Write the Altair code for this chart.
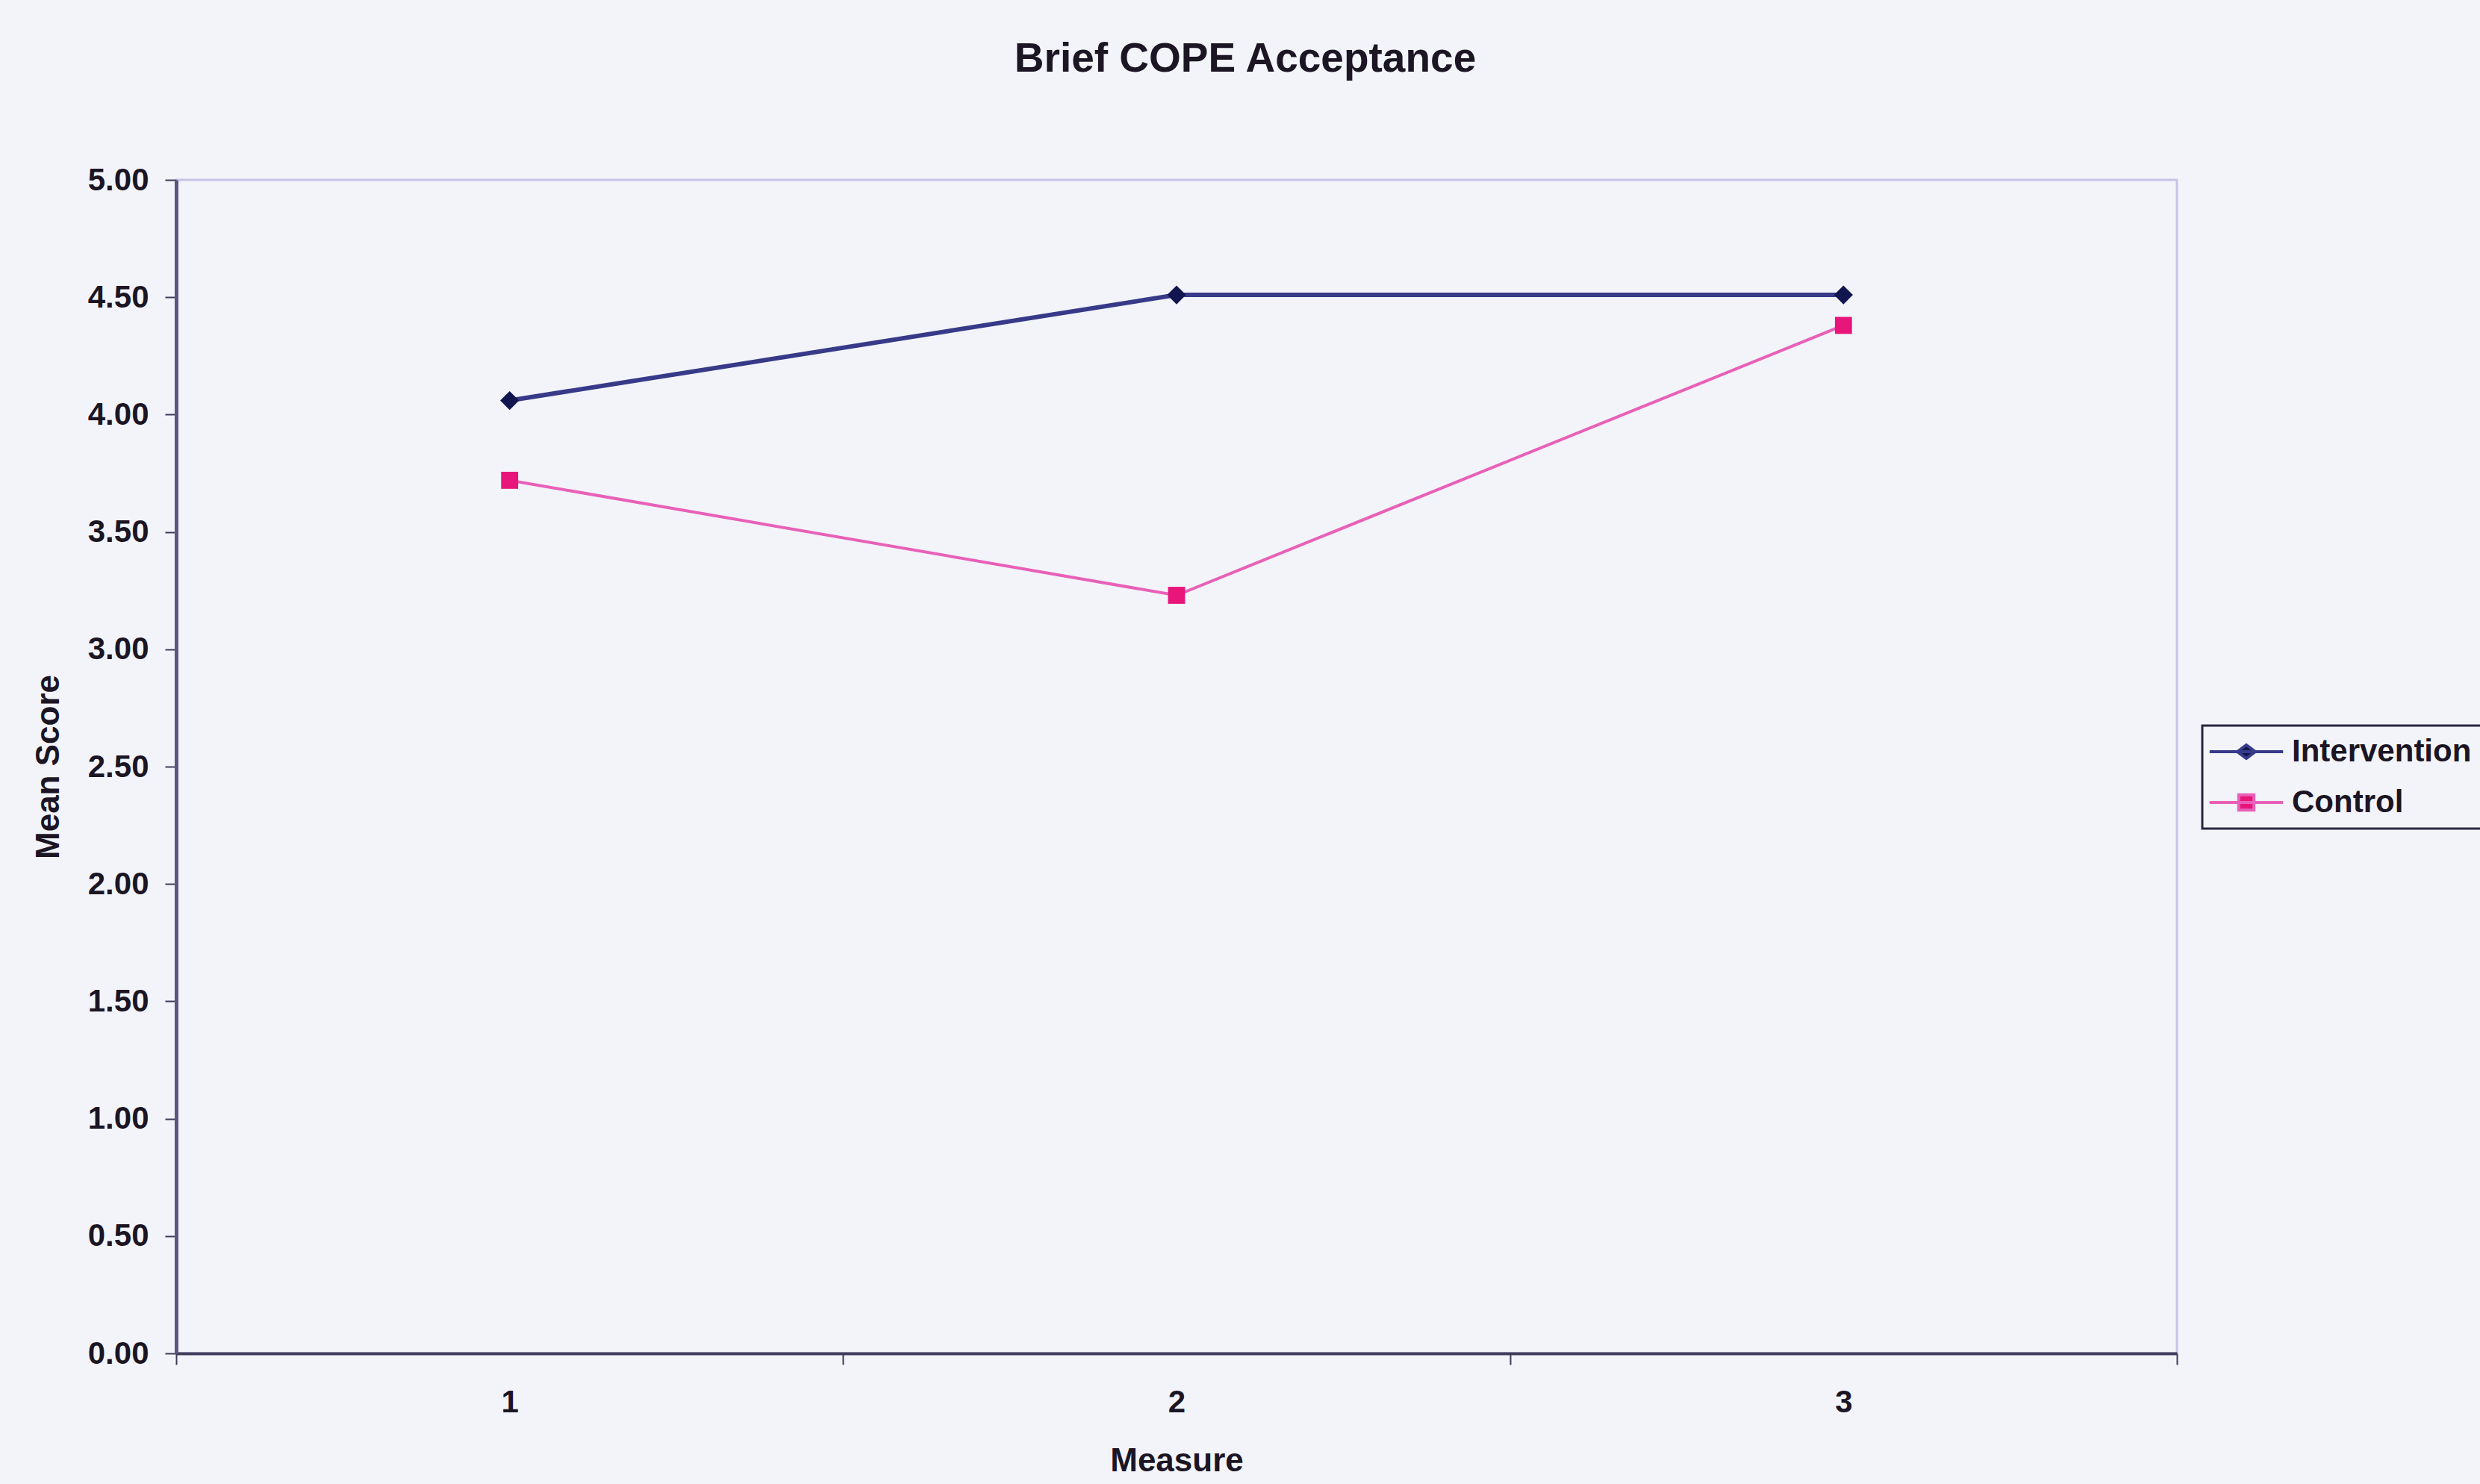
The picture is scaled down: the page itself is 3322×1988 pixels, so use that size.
import altair as alt
import pandas as pd

# Measurement occasions and mean scores per group
measures = [1, 2, 3]
series_names = ["Intervention", "Control"]
intervention_scores = [4.06, 4.51, 4.51]
control_scores = [3.72, 3.23, 4.38]
y_tick_values = [0.0, 0.5, 1.0, 1.5, 2.0, 2.5, 3.0, 3.5, 4.0, 4.5, 5.0]

# Styling
FONT = "Liberation Sans"
TEXT = "#1b1524"
BG = "#f3f4fa"
LINE_COLORS = ["#363a88", "#e860b8"]
MARKER_COLORS = {"Intervention": "#121650", "Control": "#e8157a"}
LINE_WIDTHS = {"Intervention": 6, "Control": 4}
MARKER_SHAPES = {"Intervention": "diamond", "Control": "square"}
MARKER_SIZES = {"Intervention": 640, "Control": 520}

# Legend symbols: a short line segment with the series marker in the middle
LEGEND_PATHS = {
    "Intervention": "M-4.1,0H4.1M-1,0L0,-0.75L1,0L0,0.75Z",
    "Control": "M-4.1,0H4.1M-0.85,-0.85H0.85V0.85H-0.85Z",
}

df = pd.DataFrame({
    "Measure": measures * 2,
    "Score": intervention_scores + control_scores,
    "Series": ["Intervention"] * len(measures) + ["Control"] * len(measures),
})

W, H = 2680, 1572
PAD = {"left": 236, "top": 241, "right": 3322 - 236 - W, "bottom": 1988 - 241 - H}

x_enc = alt.X(
    "Measure:O",
    scale=alt.Scale(type="band", paddingInner=0, paddingOuter=0),
    axis=alt.Axis(
        title="Measure", labelAngle=0, tickBand="extent",
        tickSize=15, tickWidth=2, tickColor="#3e3a5a",
        domainColor="#3e3a5a", domainWidth=4,
        labelPadding=30, titlePadding=36,
    ),
)
y_enc = alt.Y(
    "Score:Q",
    scale=alt.Scale(domain=[0, 5], nice=False, zero=True),
    axis=alt.Axis(
        title="Mean Score", values=y_tick_values, format=".2f", grid=False,
        tickSize=15, tickWidth=2, tickColor="#3e3a5a",
        domainColor="#5e5480", domainWidth=5,
        labelPadding=22, titlePadding=30,
    ),
)

is_int = "datum.value === 'Intervention'"
legend = alt.Legend(
    title=None, orient="none", legendX=2714, legendY=731, direction="vertical",
    labelFont=FONT, labelFontSize=42, labelFontWeight="bold", labelColor=TEXT,
    labelLimit=0,
    strokeColor="#2a2540", fillColor=BG, padding=14, rowPadding=26,
    symbolSize=576, symbolStrokeWidth=4, symbolOffset=24, labelOffset=40,
    symbolType=alt.ExprRef(
        f"{is_int} ? '{LEGEND_PATHS['Intervention']}' : '{LEGEND_PATHS['Control']}'"
    ),
    symbolFillColor=alt.ExprRef(
        f"{is_int} ? '{MARKER_COLORS['Intervention']}' : '{MARKER_COLORS['Control']}'"
    ),
)

color_enc = alt.Color(
    "Series:N",
    scale=alt.Scale(domain=series_names, range=LINE_COLORS),
    legend=legend,
)

layers = []
for name in series_names:
    base = alt.Chart(df).transform_filter(alt.datum.Series == name)
    line = base.mark_line(strokeWidth=LINE_WIDTHS[name]).encode(
        x=x_enc, y=y_enc, color=color_enc
    )
    points = base.mark_point(
        shape=MARKER_SHAPES[name], filled=True, opacity=1,
        size=MARKER_SIZES[name], color=MARKER_COLORS[name],
    ).encode(x=x_enc, y=y_enc)
    layers += [line, points]

chart = alt.layer(*layers).properties(
    width=W,
    height=H,
    padding=PAD,
    autosize=alt.AutoSizeParams(type="none"),
    background=BG,
    title=alt.TitleParams(
        text="Brief COPE Acceptance", font=FONT, fontSize=55, fontWeight="bold",
        color=TEXT, anchor="middle", frame="group", dx=92, offset=112,
    ),
).configure_view(
    stroke="#c6c3e6", strokeWidth=3, fill=BG
).configure_axis(
    labelFont=FONT, labelFontSize=42, labelFontWeight="bold", labelColor=TEXT,
    titleFont=FONT, titleFontSize=44, titleFontWeight="bold", titleColor=TEXT,
).configure_legend(
    strokeWidth=3
)

chart.save("out.html", embed_options={"renderer": "svg", "actions": False})
